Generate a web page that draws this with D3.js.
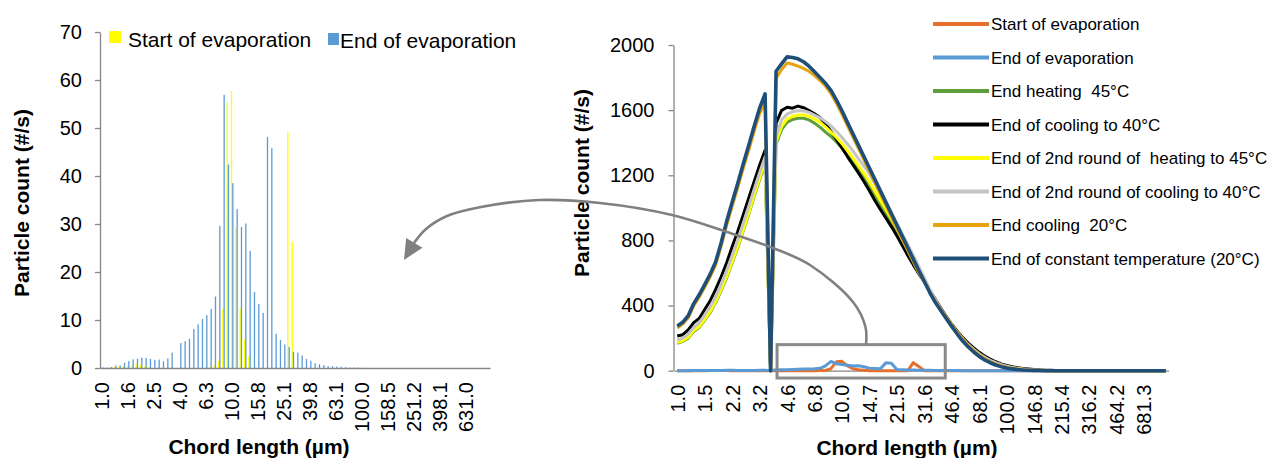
<!DOCTYPE html>
<html>
<head>
<meta charset="utf-8">
<script src="https://cdn.jsdelivr.net/npm/d3@7"></script>
<style>
  body { margin: 0; background: #fff; }
  svg text { font-family: "Liberation Sans", Arial, sans-serif; fill: #000; white-space: pre; }
</style>
</head>
<body>
<div class="canvas"></div>
<script>
// chord length channels (um), shared by both charts
const categories = ['1.0','1.1','1.2','1.3','1.4','1.5','1.6','1.7','1.8','2.0',
    '2.2','2.3','2.5','2.7','2.9','3.2','3.4','3.7','4.0','4.3',
    '4.6','5.0','5.4','5.8','6.3','6.8','7.4','7.9','8.6','9.3',
    '10.0','10.8','11.7','12.6','13.6','14.7','15.8','17.1','18.5','20.0',
    '21.5','23.3','25.1','27.2','29.3','31.6','34.1','36.9','39.8','43.0',
    '46.4','50.1','54.1','58.4','63.1','68.1','73.6','79.4','85.8','92.6',
    '100.0','108.0','116.6','125.9','135.9','146.8','158.5','171.1','184.8','199.5',
    '215.4','232.6','251.2','271.2','292.9','316.2','341.5','368.7','398.1','429.9',
    '464.2','501.2','541.1','584.3','631.0','681.3','735.6','794.3','857.7','926.1'];

const leftTicks = ['1.0','1.6','2.5','4.0','6.3','10.0','15.8','25.1','39.8','63.1','100.0','158.5','251.2','398.1','631.0'];
const rightTicks = ['1.0','1.5','2.2','3.2','4.6','6.8','10.0','14.7','21.5','31.6','46.4','68.1','100.0','146.8','215.4','316.2','464.2','681.3'];
const leftYTicks = [0,10,20,30,40,50,60,70];
const rightYTicks = [0,400,800,1200,1600,2000];

const startEvap = [0,0,0.1,0.2,0.3,0.4,0.5,0.7,0.9,0.7,
    0.4,0.2,0,0,0,0,0,0,0,0,
    0,0,0,0,0.1,0.3,0.6,1.5,12.3,55.3,
    57.7,29.2,12.4,6.0,2.4,0,0,0,0,0,
    0,0,0,49.2,26.4,0,0,0,0,0,
    0,0,0,0,0,0,0,0,0,0,
    0,0,0,0,0,0,0,0,0,0,
    0,0,0,0,0,0,0,0,0,0,
    0,0,0,0,0,0,0,0,0,0];

const endEvap = [0.15,0.1,0.2,0.55,0.55,1.1,1.45,1.8,1.95,2.15,
    2.1,1.9,1.7,1.75,1.4,2.0,3.2,0,5.2,5.6,
    6.1,8.1,9.1,10.2,11.0,12.3,14.9,29.6,56.9,42.4,
    38.5,33.1,29.4,30.1,24.4,15.8,13.3,11.5,48.1,45.8,
    7.1,5.8,4.9,4.4,3.4,3.2,2.6,1.9,1.5,1.0,
    0.8,0.6,0.4,0.35,0.3,0.25,0.15,0.1,0.1,0.05,
    0.05,0,0,0,0,0,0,0,0,0,
    0,0,0,0,0,0,0,0,0,0,
    0,0,0,0,0,0,0,0,0,0];

const endHeating45 = [168,180,200,240,265,310,356,418,492,570,
    662,754,856,958,1070,1172,1270,0,1390,1480,
    1525,1543,1550,1550,1540,1520,1495,1465,1438,1405,
    1368,1325,1280,1233,1185,1132,1076,1020,965,910,
    852,792,728,664,602,546,486,427,371,319,
    272,229,191,156,126,100,78,60,45,34,
    24,17,12,8,5,3,2,1,0,0,
    0,0,0,0,0,0,0,0,0,0,
    0,0,0,0,0,0,0,0,0,0];

const endCooling40 = [213,221,250,295,321,376,430,499,577,663,
    761,853,955,1058,1160,1262,1354,0,1520,1598,
    1618,1612,1625,1615,1598,1578,1555,1515,1470,1420,
    1368,1315,1265,1215,1162,1105,1045,990,938,885,
    828,768,708,650,595,548,492,440,385,333,
    285,242,203,170,140,113,90,71,55,42,
    32,24,18,13,10,7,5,3,2,1,
    0,0,0,0,0,0,0,0,0,0,
    0,0,0,0,0,0,0,0,0,0];

const endHeating45b = [172,184,205,246,270,315,362,424,499,577,
    669,761,863,966,1078,1181,1280,0,1405,1500,
    1545,1562,1570,1570,1562,1545,1525,1497,1465,1432,
    1395,1352,1307,1260,1212,1160,1102,1046,990,933,
    873,810,742,674,608,550,488,428,372,320,
    273,230,192,157,127,101,79,61,46,35,
    25,18,13,9,6,4,2,1,0,0,
    0,0,0,0,0,0,0,0,0,0,
    0,0,0,0,0,0,0,0,0,0];

const endCooling40b = [188,200,225,266,295,342,393,454,532,614,
    706,802,904,1007,1113,1215,1314,0,1435,1540,
    1575,1590,1596,1596,1586,1570,1553,1530,1503,1470,
    1432,1392,1350,1303,1257,1208,1150,1090,1030,968,
    905,840,775,708,640,570,500,438,380,328,
    280,236,196,161,131,104,82,64,49,37,
    27,20,14,10,7,5,3,2,1,0,
    0,0,0,0,0,0,0,0,0,0,
    0,0,0,0,0,0,0,0,0,0];

const endCooling20 = [262,286,325,398,452,512,576,650,765,893,
    1010,1122,1240,1352,1468,1578,1645,0,1795,1848,
    1890,1882,1870,1856,1838,1812,1782,1748,1702,1642,
    1576,1505,1435,1365,1295,1225,1155,1085,1015,945,
    875,805,737,668,600,548,484,428,378,330,
    283,236,193,156,124,96,73,55,41,30,
    21,15,10,6,4,3,2,1,0,0,
    0,0,0,0,0,0,0,0,0,0,
    0,0,0,0,0,0,0,0,0,0];

const endConstant20 = [274,297,338,412,466,528,593,669,786,917,
    1035,1148,1268,1381,1500,1612,1700,0,1839,1884,
    1927,1923,1915,1897,1870,1835,1800,1765,1722,1662,
    1596,1525,1455,1385,1315,1245,1175,1105,1035,965,
    895,825,755,685,615,548,480,420,370,320,
    272,225,182,146,115,88,66,49,35,25,
    17,11,7,4,3,2,1,0,0,0,
    0,0,0,0,0,0,0,0,0,0,
    0,0,0,0,0,0,0,0,0,0];

const rightNames = ['Start of evaporation','End of evaporation','End heating  45°C','End of cooling to 40°C',
    'End of 2nd round of  heating to 45°C','End of 2nd round of cooling to 40°C','End cooling  20°C',
    'End of constant temperature (20°C)'];
const rightValues = [startEvap, endEvap, endHeating45, endCooling40, endHeating45b, endCooling40b, endCooling20, endConstant20];
const rightColors = ['#E8702E','#5B9BD5','#5E9E3A','#000000','#FFFF00','#C4C4C4','#E6A30E','#1F4E79'];

const axisColor = '#868686';

const svg = d3.select('.canvas')
    .append('svg')
        .attr('width',1273)
        .attr('height',458);

//---------------- left chart: bars
const L = {left:100, right:490, top:32, bottom:368};

const xL = d3.scaleBand()
    .domain(categories)
    .range([L.left, L.right])
    .paddingInner(0.4)
    .paddingOuter(0.2);

const xSub = d3.scaleBand()
    .domain([0,1])
    .range([0, xL.bandwidth()]);

const yL = d3.scaleLinear()
    .domain([0,70])
    .range([L.bottom, L.top]);

const styleAxis = (g, size) => {
    g.attr('font-family', '"Liberation Sans", Arial, sans-serif').attr('font-size', size);
    g.select('.domain').attr('stroke', axisColor).attr('stroke-width', 1.3);
    g.selectAll('.tick line').attr('stroke', axisColor).attr('stroke-width', 1.3);
    g.selectAll('.tick text').attr('fill', '#000');
};

const rotateLabels = (g, gap) => {
    g.selectAll('.tick text')
        .attr('transform','rotate(-90)')
        .attr('x', -gap)
        .attr('y', 0)
        .attr('dy', '0.35em')
        .style('text-anchor', 'end');
};

const gyL = svg.append('g')
    .attr('transform', `translate(${L.left},0)`)
    .call(d3.axisLeft(yL).tickValues(leftYTicks).tickFormat(d3.format('d'))
        .tickSize(5).tickSizeOuter(0).tickPadding(13));
styleAxis(gyL, 20);

const leftSeries = [startEvap, endEvap];
const leftColors = ['#FFFF00', '#5B9BD5'];

leftSeries.forEach((vals, s) => {
    svg.append('g').selectAll('rect')
        .data(vals)
        .enter()
        .append('rect')
            .attr('x', (d,i) => xL(categories[i]) + xSub(s))
            .attr('width', xSub.bandwidth())
            .attr('y', d => yL(d))
            .attr('height', d => yL(0) - yL(d))
            .attr('fill', leftColors[s]);
});

const gxL = svg.append('g')
    .attr('transform', `translate(0,${L.bottom})`)
    .call(d3.axisBottom(xL).tickValues(leftTicks).tickSize(0).tickSizeOuter(0));
styleAxis(gxL, 20);
rotateLabels(gxL, 14);

// left legend
svg.append('rect').attr('x',109).attr('y',31).attr('width',12).attr('height',12).attr('fill',leftColors[0]);
svg.append('text').attr('x',128).attr('y',47).attr('font-size',21).text('Start of evaporation');
svg.append('rect').attr('x',328).attr('y',33).attr('width',11).attr('height',12).attr('fill',leftColors[1]);
svg.append('text').attr('x',340).attr('y',48).attr('font-size',21).text('End of evaporation');

svg.append('text')
    .attr('transform','translate(29,203) rotate(-90)')
    .attr('text-anchor','middle').attr('font-size',21).attr('font-weight','bold')
    .text('Particle count (#/s)');
svg.append('text')
    .attr('x',259).attr('y',454)
    .attr('text-anchor','middle').attr('font-size',21).attr('font-weight','bold')
    .text('Chord length (µm)');

//---------------- right chart: lines
const R = {left:674.5, right:1168.6, top:45, bottom:370.7};

const xR = d3.scalePoint()
    .domain(categories)
    .range([R.left, R.right])
    .padding(0.5);

const yR = d3.scaleLinear()
    .domain([0,2000])
    .range([R.bottom, R.top]);

const gyR = svg.append('g')
    .attr('transform', `translate(${R.left - 1},0)`)
    .call(d3.axisLeft(yR).tickValues(rightYTicks).tickFormat(d3.format('d'))
        .tickSize(5).tickSizeOuter(0).tickPadding(14));
styleAxis(gyR, 20);

const gxR = svg.append('g')
    .attr('transform', `translate(0,${R.bottom})`)
    .call(d3.axisBottom(xR).tickValues(rightTicks).tickSize(0).tickSizeOuter(0));
styleAxis(gxR, 20);
rotateLabels(gxR, 14);

const line = d3.line()
    .x((d,i) => xR(categories[i]))
    .y(d => yR(d));

rightValues.forEach((vals, s) => {
    svg.append('path')
        .datum(vals)
        .attr('d', line)
        .attr('fill', 'none')
        .attr('stroke', rightColors[s])
        .attr('stroke-width', s === 7 ? 3.6 : 3)
        .attr('stroke-linejoin', 'round');
});

// right legend
const legend = svg.append('g');
rightNames.forEach((name, i) => {
    const y = 24 + i * 33.5;
    legend.append('line')
        .attr('x1',933).attr('x2',989).attr('y1',y).attr('y2',y)
        .attr('stroke', rightColors[i]).attr('stroke-width', 4);
    legend.append('text')
        .attr('x',991).attr('y',y + 6)
        .attr('font-size',17)
        .attr('xml:space','preserve')
        .text(name);
});

svg.append('text')
    .attr('transform','translate(589,183) rotate(-90)')
    .attr('text-anchor','middle').attr('font-size',21).attr('font-weight','bold')
    .text('Particle count (#/s)');
svg.append('text')
    .attr('x',907).attr('y',455)
    .attr('text-anchor','middle').attr('font-size',21).attr('font-weight','bold')
    .text('Chord length (µm)');

//---------------- zoom box and arrow linking the two charts
const boxX0 = xR('4.0') + 1;
const boxX1 = xR('43.0') - 1;
const boxY0 = yR(160);
const boxY1 = yR(-45);
svg.append('rect')
    .attr('x', boxX0).attr('y', boxY0)
    .attr('width', boxX1 - boxX0).attr('height', boxY1 - boxY0)
    .attr('fill','none').attr('stroke','#8A8A8A').attr('stroke-width',3);

const arrowPts = [[866,boxY0],[865.5,327],[853,302],[810,265],[773,248],[727,232],[672,215],
    [600,203],[539,200],[481,207],[447,216],[426,229],[414,243]];
svg.append('path')
    .attr('d', d3.line().curve(d3.curveCatmullRom)(arrowPts))
    .attr('fill','none').attr('stroke','#808080').attr('stroke-width',2.6);

const tip = [404,260];
const back = [414.3,242.8];
const dx = tip[0] - back[0], dy = tip[1] - back[1];
const len = Math.hypot(dx, dy);
const px = -dy / len * 9.5, py = dx / len * 9.5;
svg.append('path')
    .attr('d', `M${tip[0]},${tip[1]}L${back[0] + px},${back[1] + py}L${back[0] - px},${back[1] - py}Z`)
    .attr('fill','#808080');
</script>
</body>
</html>
